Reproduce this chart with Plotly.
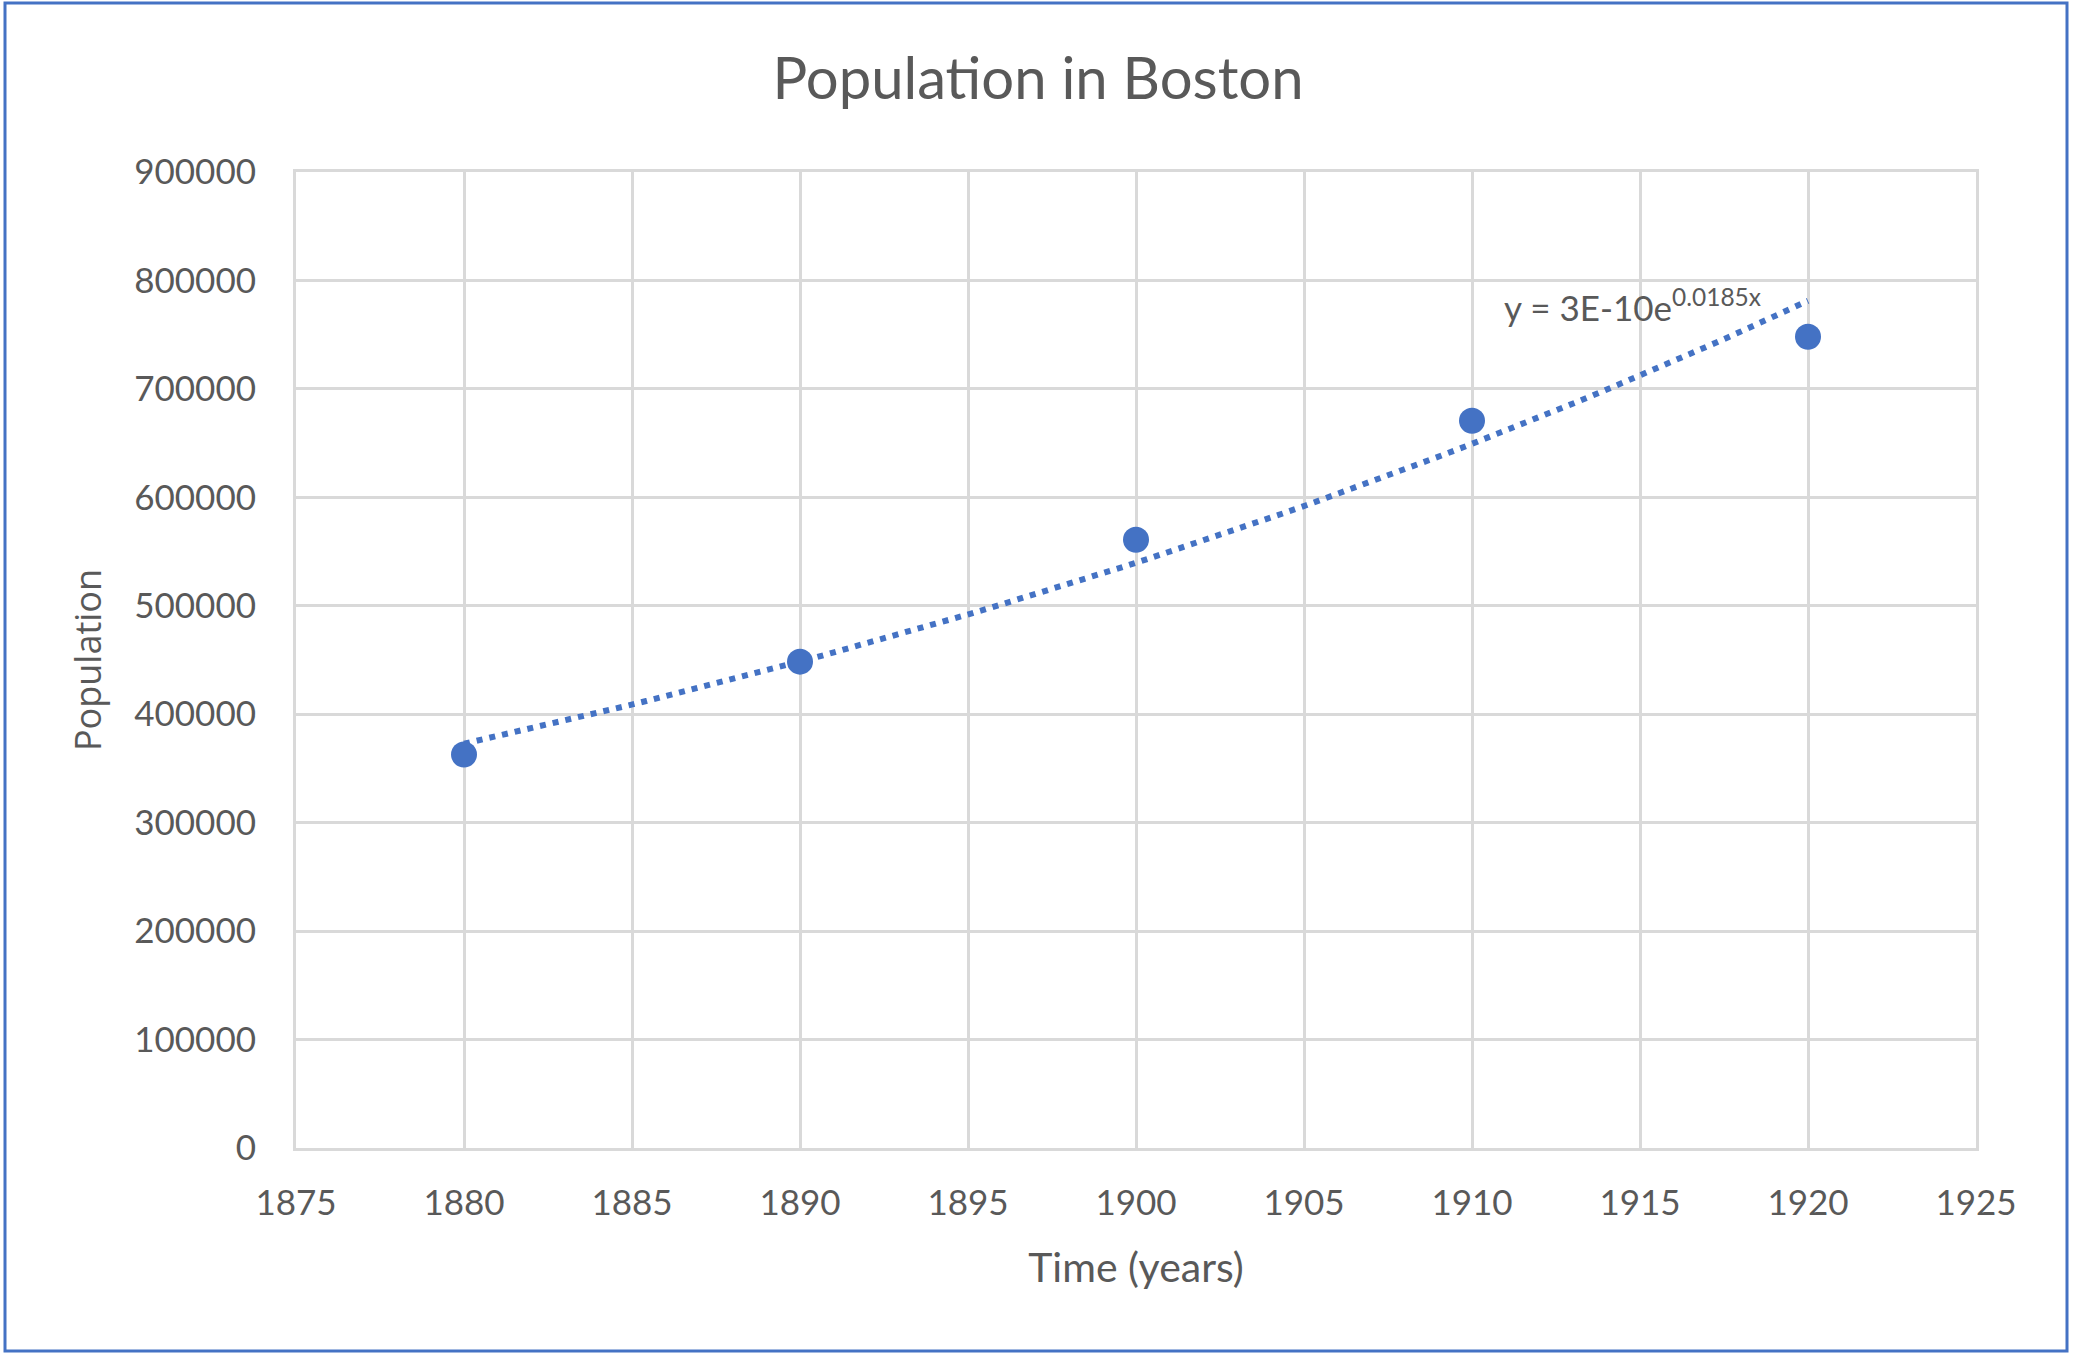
import numpy as np
import plotly.graph_objects as go

# census values for Boston
years = [1880, 1890, 1900, 1910, 1920]
population = [362839, 448477, 560892, 670585, 748060]

x_ticks = [1875, 1880, 1885, 1890, 1895, 1900, 1905, 1910, 1915, 1920, 1925]
y_ticks = [0, 100000, 200000, 300000, 400000, 500000, 600000, 700000, 800000, 900000]

trend_label = "y = 3E-10e<sup>0.0185x</sup>"

W, H = 2076, 1361
L, R, T, B = 296, 1976, 172, 1148  # plot area in pixels

BLUE = "#4472C4"
GREY = "#595959"
GRID = "#D9D9D9"

# exponential trendline (least squares on log y), like Excel does
k, ln_a = np.polyfit(np.array(years, float), np.log(population), 1)
trend_x = np.linspace(years[0], years[-1], 60)
trend_y = np.exp(ln_a + k * trend_x)

fig = go.Figure()
fig.add_trace(go.Scatter(
    x=trend_x, y=trend_y, mode="lines",
    line=dict(color=BLUE, width=6, dash="6px,7px"),
    hoverinfo="skip", showlegend=False,
))
fig.add_trace(go.Scatter(
    x=years, y=population, mode="markers",
    marker=dict(color=BLUE, size=26),
    showlegend=False,
))

def px_x(p):
    return (p - L) / (R - L)

def px_y(p):
    return (B - p) / (B - T)

# outer chart border
fig.add_shape(type="rect", xref="paper", yref="paper",
              x0=px_x(5), x1=px_x(2067), y0=px_y(1351), y1=px_y(3),
              line=dict(color=BLUE, width=3), layer="below")

fig.add_annotation(x=1910.9, y=777000, xref="x", yref="y",
                   text=trend_label, showarrow=False,
                   xanchor="left", yanchor="middle",
                   font=dict(family="Lato", size=35, color=GREY))

axis_common = dict(
    showgrid=True, gridcolor=GRID, gridwidth=3,
    showline=True, linecolor=GRID, linewidth=3, mirror=True,
    zeroline=False, ticks="",
    tickfont=dict(family="Lato", size=35, color=GREY),
)

fig.update_layout(
    width=W, height=H,
    margin=dict(l=L, r=W - R, t=T, b=H - B),
    paper_bgcolor="white", plot_bgcolor="white",
    title=dict(text="Population in Boston", x=0.5, xanchor="center",
               y=1 - 79 / H, yanchor="middle", yref="container",
               font=dict(family="Lato", size=58, color=GREY)),
    xaxis=dict(axis_common, range=[1875, 1925], tickvals=x_ticks,
               ticklabelstandoff=22,
               title=dict(text="Time (years)", standoff=33,
                          font=dict(family="Lato", size=41, color=GREY))),
    yaxis=dict(axis_common, range=[0, 900000], tickvals=y_ticks,
               tickformat="d", ticklabelstandoff=30,
               title=dict(text="Population", standoff=22,
                          font=dict(family="Open Sans", size=36, color=GREY))),
)

# drop the default page margin so the chart fills the window from the corner
fig.write_html("out.html", config={"displayModeBar": False},
               post_script="document.body.style.margin='0';")
